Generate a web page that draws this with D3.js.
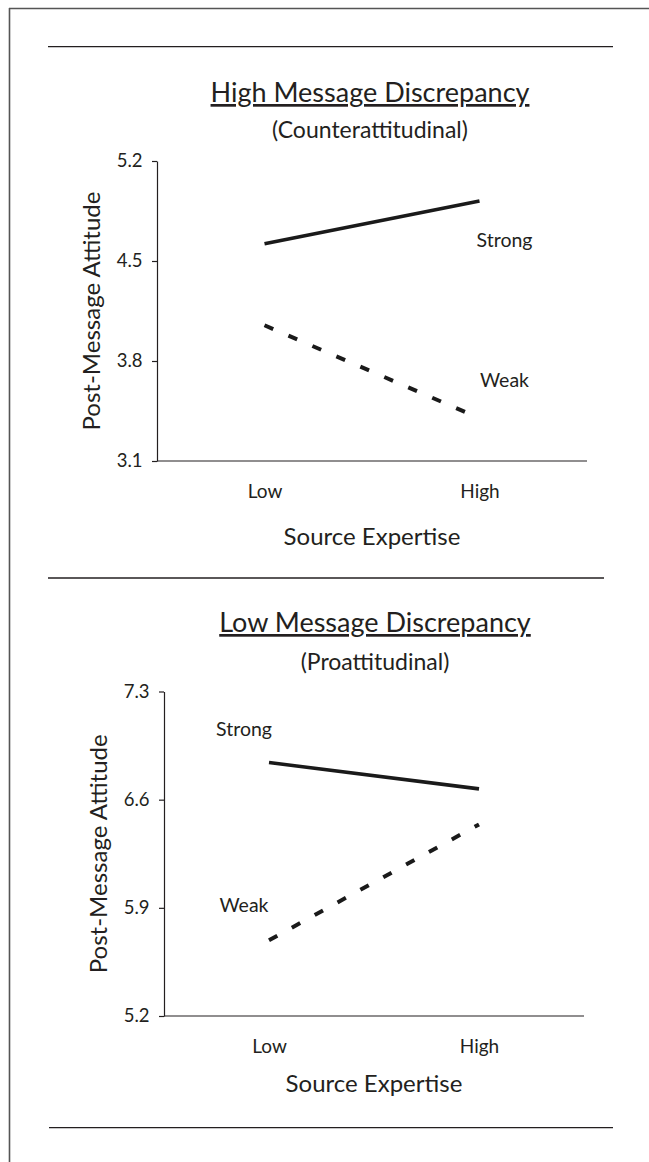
<!DOCTYPE html>
<html>
<head>
<meta charset="utf-8">
<script src="https://cdn.jsdelivr.net/npm/d3@7"></script>
<style>
  html, body { margin: 0; padding: 0; background: #fff; }
  svg { display: block; font-family: Lato, "Open Sans", sans-serif; }
</style>
</head>
<body>
<svg id="chart" width="649" height="1162"></svg>
<script>
// data
const categories = ["Low", "High"];

const highTicks = [3.1, 3.8, 4.5, 5.2];
const highStrong = [4.62, 4.92];
const highWeak = [4.05, 3.40];

const lowTicks = [5.2, 5.9, 6.6, 7.3];
const lowStrong = [6.84, 6.67];
const lowWeak = [5.69, 6.44];

const ink = "#231f20";

const svg = d3.select("#chart");

// page frame + horizontal rules
svg.append("line").attr("x1", 9).attr("x2", 649).attr("y1", 8.5).attr("y2", 8.5)
    .attr("stroke", "#555").attr("stroke-width", 1.6);
svg.append("line").attr("x1", 9.5).attr("x2", 9.5).attr("y1", 8).attr("y2", 1162)
    .attr("stroke", "#555").attr("stroke-width", 1.6);

[[48, 613, 46.7], [48, 604, 578], [49, 613, 1127.7]].forEach(([a, b, y]) => {
    svg.append("line").attr("x1", a).attr("x2", b).attr("y1", y).attr("y2", y)
        .attr("stroke", ink).attr("stroke-width", 1.3);
});

function drawPanel(p) {
    const g = svg.append("g");

    const x = d3.scalePoint()
        .domain(categories)
        .range([p.left, p.right])
        .padding(0.5);

    const y = d3.scaleLinear()
        .domain([p.ticks[0], p.ticks[p.ticks.length - 1]])
        .range([p.bottom, p.top]);

    // titles
    g.append("text")
        .attr("x", p.titleX).attr("y", p.titleY)
        .attr("text-anchor", "middle")
        .attr("font-size", 27)
        .attr("fill", ink)
        .style("text-decoration", "underline")
        .text(p.title);

    g.append("text")
        .attr("x", p.titleX).attr("y", p.subY)
        .attr("text-anchor", "middle")
        .attr("font-size", 23)
        .attr("fill", ink)
        .text(p.subtitle);

    // y axis
    const yAxisG = g.append("g")
        .attr("transform", `translate(${p.left},0)`)
        .call(d3.axisLeft(y).tickValues(p.ticks).tickFormat(d3.format(".1f"))
            .tickSize(5).tickSizeOuter(0).tickPadding(9.5));

    // x axis (line only, no ticks)
    const xAxisG = g.append("g")
        .attr("transform", `translate(0,${p.bottom})`)
        .call(d3.axisBottom(x).tickSize(0).tickSizeOuter(0).tickPadding(24));
    xAxisG.select(".domain").attr("d", `M${p.left},0H${p.right}`);

    [yAxisG, xAxisG].forEach(a => {
        a.selectAll("path, line").attr("stroke", ink).attr("stroke-width", 1.2);
        a.selectAll("text").attr("fill", ink).attr("font-size", 19)
            .attr("font-family", "Lato, 'Open Sans', sans-serif");
    });
    yAxisG.selectAll("text").attr("font-size", 18.5);

    // axis titles
    g.append("text")
        .attr("x", (p.left + p.right) / 2).attr("y", p.xLabelY)
        .attr("text-anchor", "middle")
        .attr("font-size", 24)
        .attr("fill", ink)
        .text("Source Expertise");

    g.append("text")
        .attr("transform", "rotate(-90)")
        .attr("x", -(p.top + p.bottom) / 2)
        .attr("y", p.left - 57)
        .attr("text-anchor", "middle")
        .attr("font-size", 24)
        .attr("fill", ink)
        .text("Post-Message Attitude");

    // lines
    const line = d3.line()
        .x((d, i) => x(categories[i]))
        .y(d => y(d));

    g.append("path")
        .datum(p.strong)
        .attr("d", line)
        .attr("fill", "none")
        .attr("stroke", "#1a1a1a")
        .attr("stroke-width", 3.6);

    g.append("path")
        .datum(p.weak)
        .attr("d", line)
        .attr("fill", "none")
        .attr("stroke", "#1a1a1a")
        .attr("stroke-width", 4)
        .attr("stroke-dasharray", "9.5,16.6");

    // series labels
    p.labels.forEach(l => {
        g.append("text")
            .attr("x", x(l.cat) + l.dx)
            .attr("y", y(l.value))
            .attr("text-anchor", "middle")
            .attr("font-size", 19.5)
            .attr("fill", ink)
            .text(l.text);
    });
}

drawPanel({
    title: "High Message Discrepancy",
    subtitle: "(Counterattitudinal)",
    titleX: 370, titleY: 102, subY: 138,
    left: 157, right: 587, top: 161, bottom: 461,
    xLabelY: 545,
    ticks: highTicks,
    strong: highStrong,
    weak: highWeak,
    labels: [
        { text: "Strong", cat: "High", dx: 25, value: 4.60 },
        { text: "Weak", cat: "High", dx: 25, value: 3.62 }
    ]
});

drawPanel({
    title: "Low Message Discrepancy",
    subtitle: "(Proattitudinal)",
    titleX: 375, titleY: 632, subY: 670,
    left: 164, right: 584, top: 691.5, bottom: 1016,
    xLabelY: 1092,
    ticks: lowTicks,
    strong: lowStrong,
    weak: lowWeak,
    labels: [
        { text: "Strong", cat: "Low", dx: -25, value: 7.01 },
        { text: "Weak", cat: "Low", dx: -25, value: 5.875 }
    ]
});
</script>
</body>
</html>
